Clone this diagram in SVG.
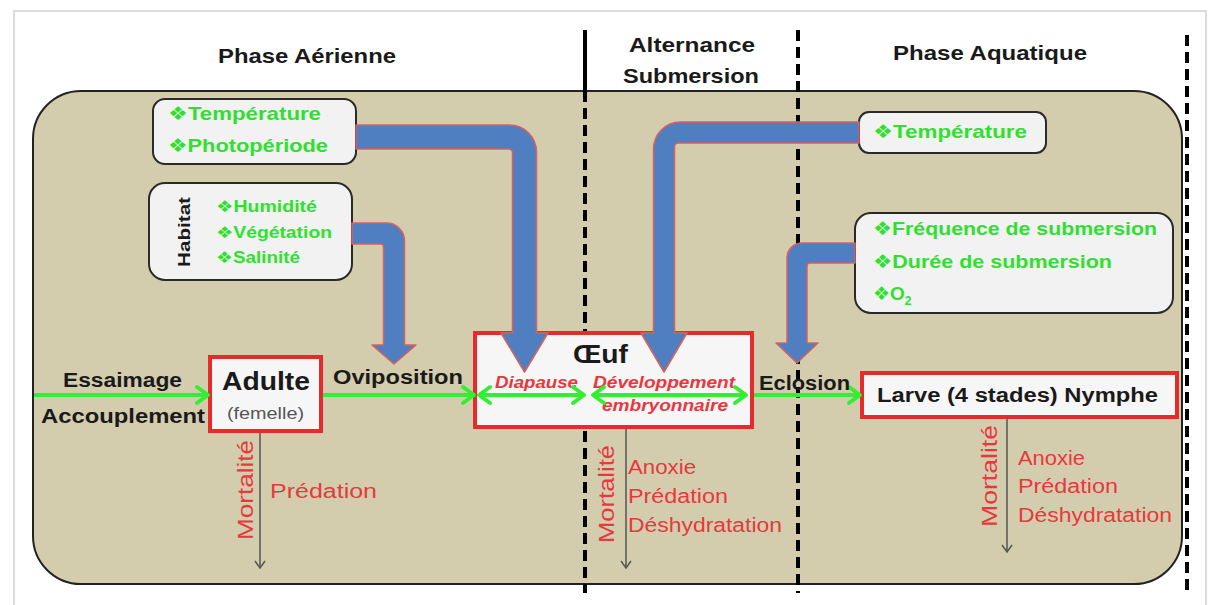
<svg xmlns="http://www.w3.org/2000/svg" width="1208" height="605" viewBox="0 0 1208 605">
  <style>
    text { font-family: "Liberation Sans", Arial, sans-serif; }
    .hdr { font-size: 21px; font-weight: bold; fill: #1a1a1a; }
    .lbl { font-size: 20px; font-weight: bold; fill: #1a1a1a; }
    .grn { font-size: 19px; font-weight: bold; fill: #30e030; }
    .grs { font-size: 16px; font-weight: bold; fill: #30e030; }
    .sym { font-family: "DejaVu Sans", sans-serif; font-weight: normal; }
    .red { font-size: 20px; fill: #e8383d; }
    .mort { font-size: 22px; fill: #e8383d; }
    .redi { font-size: 17px; font-weight: bold; font-style: italic; fill: #e8383d; }
    .info { fill: #f2f2f2; stroke: #2a2a2a; stroke-width: 2; }
    .stage { fill: #f6f6f6; stroke: #e52b2b; stroke-width: 4; }
    .pipe { fill: #4f7fc0; stroke: #d9605f; stroke-width: 1.5; stroke-linejoin: round; }
    .gline { stroke: #33ee33; stroke-width: 4; fill: none; }
    .mline { stroke: #555; stroke-width: 1.5; fill: none; }
    .dash { stroke: #000; stroke-width: 4; stroke-dasharray: 11 6; fill: none; }
  </style>
  <defs>
    <marker id="gArrow" markerUnits="userSpaceOnUse" markerWidth="18" markerHeight="22" viewBox="0 0 18 22" refX="14" refY="11" orient="auto-start-reverse">
      <path d="M3,3 L14,11 L3,19" fill="none" stroke="#33ee33" stroke-width="4" stroke-linecap="round" stroke-linejoin="round"/>
    </marker>
    <marker id="mArrow" markerUnits="userSpaceOnUse" markerWidth="12" markerHeight="12" viewBox="0 0 12 12" refX="10" refY="6" orient="auto">
      <path d="M3,1 L10,6 L3,11" fill="none" stroke="#555" stroke-width="1.5"/>
    </marker>
  </defs>

  <!-- page -->
  <rect x="0" y="0" width="1208" height="605" fill="#ffffff"/>
  <path d="M14,605 V11 H1206 V605" fill="none" stroke="#dcdcdc" stroke-width="2"/>

  <!-- headers -->
  <g id="headers">
    <text class="hdr" x="218" y="63" textLength="178" lengthAdjust="spacingAndGlyphs">Phase Aérienne</text>
    <text class="hdr" x="629" y="52" textLength="126" lengthAdjust="spacingAndGlyphs">Alternance</text>
    <text class="hdr" x="623" y="83" textLength="136" lengthAdjust="spacingAndGlyphs">Submersion</text>
    <text class="hdr" x="893" y="60" textLength="194" lengthAdjust="spacingAndGlyphs">Phase Aquatique</text>
  </g>

  <!-- main panel -->
  <rect id="panel" x="33" y="91" width="1149" height="493" rx="48" ry="48" fill="#d3cdae" stroke="#222" stroke-width="2"/>

  <!-- phase separators -->
  <g id="separators">
    <line x1="585" y1="30" x2="585" y2="91" stroke="#000" stroke-width="4"/>
    <line class="dash" x1="585" y1="91" x2="585" y2="593"/>
    <line class="dash" x1="798" y1="30" x2="798" y2="593"/>
    <line class="dash" x1="1187" y1="35" x2="1187" y2="593"/>
  </g>

  <!-- info nodes -->
  <g id="node-temp-photo">
    <rect class="info" x="153" y="99" width="203" height="65" rx="12"/>
    <text class="grn" x="168" y="120" textLength="153" lengthAdjust="spacingAndGlyphs"><tspan class="sym">❖</tspan>Température</text>
    <text class="grn" x="168" y="152" textLength="160" lengthAdjust="spacingAndGlyphs"><tspan class="sym">❖</tspan>Photopériode</text>
  </g>
  <g id="node-habitat">
    <rect class="info" x="149" y="183" width="203" height="97" rx="16"/>
    <text transform="translate(190,232) rotate(-90)" text-anchor="middle" style="font-size:17px;font-weight:bold;fill:#1a1a1a" textLength="70" lengthAdjust="spacingAndGlyphs">Habitat</text>
    <text class="grs" x="216" y="212" textLength="101" lengthAdjust="spacingAndGlyphs"><tspan class="sym">❖</tspan>Humidité</text>
    <text class="grs" x="216" y="238" textLength="116" lengthAdjust="spacingAndGlyphs"><tspan class="sym">❖</tspan>Végétation</text>
    <text class="grs" x="216" y="263" textLength="84" lengthAdjust="spacingAndGlyphs"><tspan class="sym">❖</tspan>Salinité</text>
  </g>
  <g id="node-temp-aqua">
    <rect class="info" x="859" y="112" width="187" height="41" rx="10"/>
    <text class="grn" x="873" y="138" textLength="154" lengthAdjust="spacingAndGlyphs"><tspan class="sym">❖</tspan>Température</text>
  </g>
  <g id="node-submersion">
    <rect class="info" x="855" y="213" width="318" height="100" rx="16"/>
    <text class="grn" x="873" y="235" textLength="284" lengthAdjust="spacingAndGlyphs"><tspan class="sym">❖</tspan>Fréquence de submersion</text>
    <text class="grn" x="873" y="268" textLength="239" lengthAdjust="spacingAndGlyphs"><tspan class="sym">❖</tspan>Durée de submersion</text>
    <text class="grn" x="873" y="300"><tspan class="sym">❖</tspan>O<tspan dy="5" style="font-size:12px">2</tspan></text>
  </g>

  <!-- stage nodes -->
  <g id="node-adulte">
    <rect class="stage" x="210" y="357" width="111" height="74"/>
    <text x="222" y="390" style="font-size:26px;font-weight:bold;fill:#1a1a1a" textLength="88" lengthAdjust="spacingAndGlyphs">Adulte</text>
    <text x="227" y="419" style="font-size:16px;fill:#555" textLength="77" lengthAdjust="spacingAndGlyphs">(femelle)</text>
  </g>
  <g id="node-oeuf">
    <rect class="stage" x="475" y="333" width="277" height="94"/>
    <text x="573" y="363" style="font-size:26px;font-weight:bold;fill:#1a1a1a" textLength="55" lengthAdjust="spacingAndGlyphs">Œuf</text>
    <text class="redi" x="495" y="388" textLength="83" lengthAdjust="spacingAndGlyphs">Diapause</text>
    <text class="redi" x="593" y="388" textLength="142" lengthAdjust="spacingAndGlyphs">Développement</text>
    <text class="redi" x="602" y="411" textLength="126" lengthAdjust="spacingAndGlyphs">embryonnaire</text>
  </g>
  <g id="node-larve">
    <rect class="stage" x="862" y="373" width="315" height="44"/>
    <text class="lbl" x="877" y="402" textLength="281" lengthAdjust="spacingAndGlyphs">Larve (4 stades) Nymphe</text>
  </g>

  <!-- connectors -->
  <g id="connectors">
    <path class="pipe" d="M356,125 H509.5 A27,27 0 0 1 536.5,152 V333 H548 L524.5,372 L501,333 H512.5 V153 A4,4 0 0 0 508.5,149 H356 Z"/>
    <path class="pipe" d="M352,223 H386.5 A18,18 0 0 1 404.5,241 V345 H416 L394,364 L372,345 H383.5 V247 A3,3 0 0 0 380.5,244 H352 Z"/>
    <path class="pipe" d="M859,122 H680.5 A27,27 0 0 0 653.5,149 V333 H641 L664,372 L687,333 H674.5 V147 A4,4 0 0 1 678.5,143 H859 Z"/>
    <path class="pipe" d="M855,243 H802 A15,15 0 0 0 787,258 V343 H776 L797,363 L818,343 H807 V266 A3,3 0 0 1 810,263 H855 Z"/>

    <line class="gline" x1="34" y1="395" x2="208" y2="395" marker-end="url(#gArrow)"/>
    <line class="gline" x1="323" y1="395" x2="474" y2="395" marker-end="url(#gArrow)"/>
    <line class="gline" x1="479" y1="395" x2="584" y2="395" marker-start="url(#gArrow)" marker-end="url(#gArrow)"/>
    <line class="gline" x1="593" y1="395" x2="746" y2="395" marker-start="url(#gArrow)" marker-end="url(#gArrow)"/>
    <line class="gline" x1="754" y1="395" x2="860" y2="395" marker-end="url(#gArrow)"/>

    <line class="mline" x1="260" y1="433" x2="260" y2="568" marker-end="url(#mArrow)"/>
    <line class="mline" x1="626" y1="429" x2="626" y2="568" marker-end="url(#mArrow)"/>
    <line class="mline" x1="1007" y1="419" x2="1007" y2="552" marker-end="url(#mArrow)"/>
  </g>

  <!-- connector labels -->
  <g id="labels">
    <text class="lbl" x="63" y="387" textLength="119" lengthAdjust="spacingAndGlyphs">Essaimage</text>
    <text class="lbl" x="41" y="423" textLength="164" lengthAdjust="spacingAndGlyphs">Accouplement</text>
    <text class="lbl" x="333" y="384" textLength="130" lengthAdjust="spacingAndGlyphs">Oviposition</text>
    <text class="lbl" x="759" y="390" textLength="91" lengthAdjust="spacingAndGlyphs">Eclosion</text>

    <text class="mort" transform="translate(253,490) rotate(-90)" text-anchor="middle" textLength="100" lengthAdjust="spacingAndGlyphs">Mortalité</text>
    <text class="red" x="270" y="498" textLength="107" lengthAdjust="spacingAndGlyphs">Prédation</text>

    <text class="mort" transform="translate(614,494) rotate(-90)" text-anchor="middle" textLength="98" lengthAdjust="spacingAndGlyphs">Mortalité</text>
    <text class="red" x="628" y="474" textLength="68" lengthAdjust="spacingAndGlyphs">Anoxie</text>
    <text class="red" x="628" y="503" textLength="100" lengthAdjust="spacingAndGlyphs">Prédation</text>
    <text class="red" x="628" y="532" textLength="154" lengthAdjust="spacingAndGlyphs">Déshydratation</text>

    <text class="mort" transform="translate(997,476) rotate(-90)" text-anchor="middle" textLength="102" lengthAdjust="spacingAndGlyphs">Mortalité</text>
    <text class="red" x="1018" y="465" textLength="67" lengthAdjust="spacingAndGlyphs">Anoxie</text>
    <text class="red" x="1018" y="493" textLength="100" lengthAdjust="spacingAndGlyphs">Prédation</text>
    <text class="red" x="1018" y="522" textLength="154" lengthAdjust="spacingAndGlyphs">Déshydratation</text>
  </g>
</svg>
